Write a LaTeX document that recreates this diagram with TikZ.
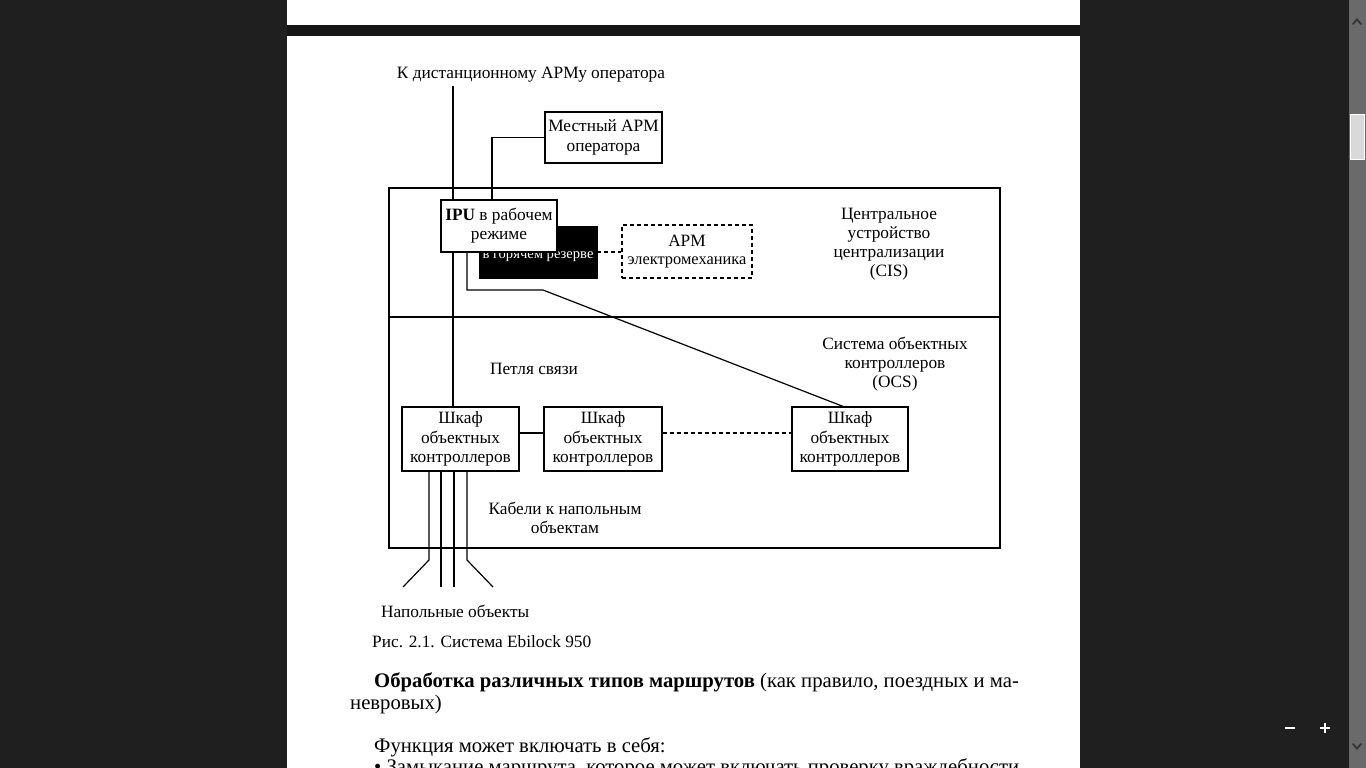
\documentclass[tikz,border=0pt]{standalone}
\usepackage{fontspec}
\setmainfont{Liberation Serif}
\newcommand{\dfont}{\fontsize{17.3}{19.2}\selectfont}
\newcommand{\sfnt}{\fontsize{14.6}{18}\selectfont}
\newcommand{\efnt}{\fontsize{16.4}{18}\selectfont}
\newcommand{\bfont}{\fontsize{20.7}{23}\selectfont}
\definecolor{bgdark}{HTML}{1F1F1F}
\definecolor{gapdark}{HTML}{161616}
\definecolor{scrl}{HTML}{6A6A6A}
\definecolor{thumb}{HTML}{D9D9D9}
\begin{document}
\begin{tikzpicture}[x=1pt,y=-1pt,
  box/.style={draw, line width=1.2pt, fill=white, inner sep=0pt, align=center, font=\dfont},
  dbox/.style={box, dash pattern=on 4pt off 3pt},
  lbl/.style={inner sep=0pt, align=center, font=\dfont},
  wire/.style={line width=1.2pt},
  dwire/.style={line width=1.2pt, dash pattern=on 4pt off 3pt},
  btxt/.style={inner sep=0pt, anchor=base west, font=\bfont}]
\clip (0,0) rectangle (1366,768);
\fill[bgdark] (0,0) rectangle (1366,768);
% pages
\fill[gapdark] (287,25) rectangle (1080,36);
\fill[white] (287,0) rectangle (1080,25);
\fill[white] (287,36) rectangle (1080,768);
% scrollbar
\fill[scrl] (1349,0) rectangle (1366,768);
\fill[thumb, draw=white, line width=0.8pt] (1350.5,114) rectangle (1364.5,159);
\draw[line width=1.8pt, line cap=round, black!80] (1353,24) -- (1357,19.5) -- (1361,24);
\draw[line width=1.8pt, line cap=round, black!80] (1353,744) -- (1357,748.5) -- (1361,744);
% zoom buttons
\draw[white, line width=2.2pt] (1285,728) -- (1295,728);
\draw[white, line width=2.2pt] (1320,728) -- (1330,728) (1325,723) -- (1325,733);

% ---------- diagram ----------
\draw[wire] (389,188) rectangle (1000,548);
\draw[wire] (389,317) -- (1000,317);

\coordinate (rtop) at (453,86);
\node[lbl, anchor=base] (remote) at (531,78) {К дистанционному АРМу оператора};

\node[box, minimum width=117pt, minimum height=51pt] (apm) at (603.5,137.5) {Местный АРМ\\оператора};

\node[draw, fill=black, inner sep=0pt, minimum width=118pt, minimum height=52pt] (hot) at (538,252) {};
\node[inner sep=0pt, font=\sfnt, text=white] (hottxt) at (538,257) {в горячем резерве};

\node[dbox, minimum width=130pt, minimum height=53pt] (arm) at (687,251.5) {АРМ\\[-1pt]{\efnt электромеханика}};

\node[lbl] (cis) at (889,244) {Центральное\\устройство\\централизации\\(CIS)};
\node[lbl] (ocs) at (895,364) {Система объектных\\контроллеров\\(OCS)};
\node[lbl] (loop) at (534,369) {Петля связи};
\node[lbl] (cab) at (565,518) {Кабели к напольным\\объектам};

\node[box, minimum width=117pt, minimum height=64pt] (s1) at (460.5,439) {Шкаф\\объектных\\контроллеров};
\node[box, minimum width=118pt, minimum height=64pt] (s2) at (603,439) {Шкаф\\объектных\\контроллеров};
\node[box, minimum width=116pt, minimum height=64pt] (s3) at (850,439) {Шкаф\\объектных\\контроллеров};

% remote line (behind IPU box)
\draw[wire] (rtop) -- (s1.north -| rtop);

\node[box, minimum width=116pt, minimum height=52pt] (ipu) at (499,226) {\textbf{IPU} в рабочем\\режиме};

% connections
\draw[wire] (ipu.north -| 492,0) |- (apm.west);
\draw[dwire] (hot.east |- 0,252) -- (arm.west |- 0,252);
\coordinate (bend1) at (467,290);
\coordinate (bend2) at (543,290);
\draw[wire] (ipu.south -| bend1) -- (bend1) -- (bend2) -- (s3.north -| 843,0);
\draw[wire] (s1.east |- 0,433) -- (s2.west |- 0,433);
\draw[dwire] (s2.east |- 0,433) -- (s3.west |- 0,433);

% cables
\coordinate (fl) at (403,587);
\coordinate (fr) at (493,587);
\draw[wire] (s1.south -| 429,0) -- (429,560) -- (fl);
\draw[wire] (s1.south -| 441,0) -- (441,587);
\draw[wire] (s1.south -| 454,0) -- (454,587);
\draw[wire] (s1.south -| 467,0) -- (467,560) -- (fr);

\node[lbl, anchor=base west] (field) at (381,617) {Напольные объекты};
\node[lbl, anchor=base west] (cap) at (372,647) {Рис. 2.1. Система Ebilock 950};

% ---------- body text ----------
\node[btxt] (t1) at (374,687) {\textbf{Обработка различных типов маршрутов} (как правило, поездных и ма-};
\node[btxt] (t2) at (350,709) {невровых)};
\node[btxt] (t3) at (374,752) {Функция может включать в себя:};
\node[btxt] (t4) at (374,773) {• Замыкание маршрута, которое может включать проверку враждебности};
\end{tikzpicture}
\end{document}
